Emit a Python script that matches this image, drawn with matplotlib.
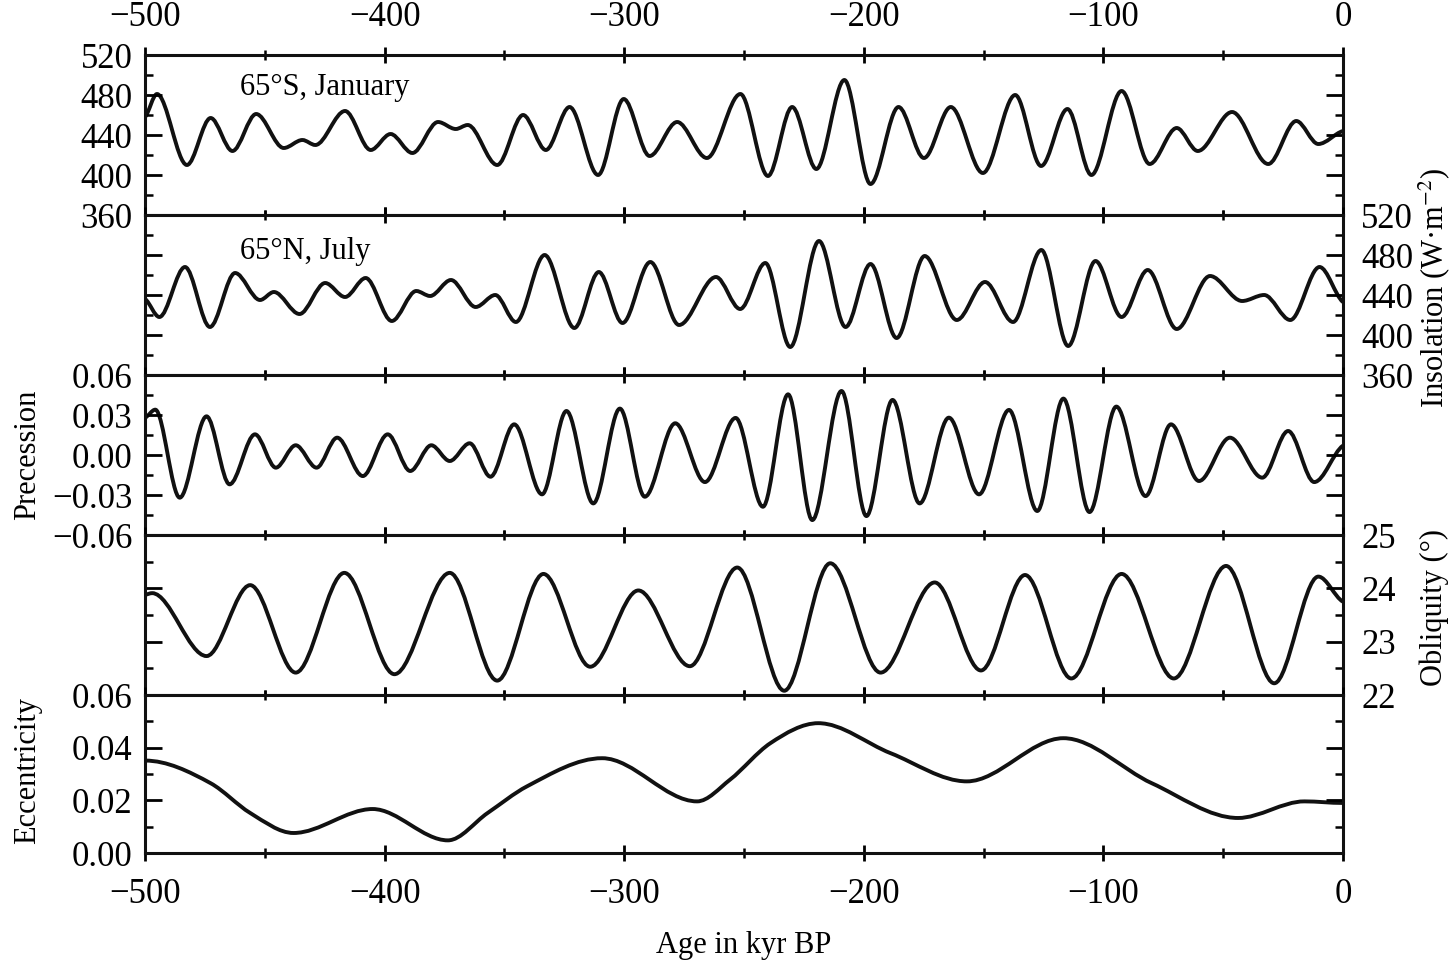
import numpy as np
import matplotlib.pyplot as plt
from matplotlib.path import Path
from matplotlib.patches import PathPatch
from matplotlib.ticker import MultipleLocator, FuncFormatter

plt.rcParams['font.family'] = ['Liberation Serif', 'DejaVu Serif']
plt.rcParams['mathtext.fontset'] = 'stix'
plt.rcParams['font.size'] = 22

# turning points: age (kyr BP), value
jan_age = [-500, -495, -482.5, -472.6, -463.5, -453.6, -442.1, -434.3, -428.9, -416.5, -405.8,
           -397.5, -388.4, -377.7, -370.3, -365.3, -353, -342.2, -332.7, -322.8, -310.9, -300.2,
           -289.4, -277.9, -265.5, -251.5, -240, -229.9, -219.8, -208.1, -197.2, -185.5, -174.9,
           -163.7, -150.3, -136.8, -126, -115, -105, -92.4, -80.7, -69.4, -60.6, -46.3, -31.2,
           -19.5, -10.3, 0]
jan_val = [458, 481, 410, 457, 424, 461, 427, 435, 430, 464, 425, 441, 422, 453, 446, 450, 410,
           460, 425, 468, 400, 476, 419, 453, 417, 481, 399, 468, 406, 495, 391, 468, 417, 468,
           402, 480, 409, 466, 400, 484, 411, 447, 424, 463, 411, 454, 431, 444]

jul_age = [-500, -494, -483.3, -472.9, -462.4, -452, -446.2, -435.5, -424.8, -416.5, -407.9,
           -397, -386.8, -381, -372.3, -362, -353.8, -345.2, -333.2, -320.8, -310.6, -300.7,
           -289.1, -277.1, -261.7, -251.6, -241.1, -230.7, -218.7, -207.6, -197.2, -186.3,
           -174.6, -161.2, -149.4, -137.7, -125.9, -114.7, -103.3, -92.4, -81.5, -69.4, -55.5,
           -42.1, -32.9, -22, -9.8, 0]
jul_val = [436, 418, 468, 408, 462, 435, 443, 421, 452, 438, 457, 414, 444, 439, 455, 428, 440,
           413, 480, 407, 463, 412, 473, 410, 458, 426, 472, 388, 494, 408, 471, 397, 479, 415,
           453, 413, 485, 389, 474, 418, 465, 406, 459, 434, 440, 415, 468, 433]

prec_age = [-500, -495.7, -485.5, -474.3, -464.7, -454.1, -445.4, -437.1, -428.4, -419.8,
            -409.1, -398.7, -389.3, -380.5, -372.8, -364.5, -355.8, -345.9, -334.3, -324.1,
            -312.9, -301.8, -291.4, -278.7, -266.3, -253.5, -242.1, -231.6, -221.5, -209.3,
            -198.9, -188, -176.7, -164.5, -151.9, -139.4, -127.6, -116.7, -105.8, -94.6, -82.4,
            -71.8, -60.1, -47.2, -33.7, -22.9, -12, 0]
prec_val = [0.028, 0.034, -0.032, 0.029, -0.022, 0.0155, -0.0095, 0.0073, -0.0095, 0.013,
            -0.0158, 0.0155, -0.012, 0.0073, -0.0045, 0.0088, -0.0163, 0.023, -0.0295, 0.033,
            -0.0363, 0.0348, -0.0313, 0.0238, -0.0203, 0.0278, -0.0388, 0.0455, -0.0488, 0.048,
            -0.0458, 0.0413, -0.0363, 0.028, -0.0295, 0.0338, -0.042, 0.0423, -0.0428, 0.0363,
            -0.0308, 0.023, -0.0195, 0.013, -0.017, 0.018, -0.0203, 0.007]

obl_age = [-500, -497, -474.3, -456.1, -437.1, -416.8, -395.9, -372.8, -353, -333.7, -314.2,
           -294.1, -272.6, -252.8, -233.2, -214, -193, -170.4, -151.1, -132.7, -113.4, -92.4,
           -70.6, -48.8, -28.7, -10.3, 0]
obl_val = [23.88, 23.91, 22.73, 24.06, 22.42, 24.29, 22.39, 24.29, 22.27, 24.27, 22.53, 23.96,
           22.54, 24.39, 22.08, 24.47, 22.42, 24.11, 22.46, 24.25, 22.31, 24.27, 22.31, 24.42,
           22.22, 24.22, 23.75]

ecc_age = [-500, -472.6, -456.1, -438, -405, -373.6, -357, -340.6, -309.2, -269.6, -255.9, -239,
           -219, -188.8, -157, -116.7, -79.8, -43.8, -16.1, 0]
ecc_val = [0.0351, 0.0265, 0.0152, 0.0076, 0.0167, 0.0048, 0.0152, 0.0253, 0.036, 0.0196,
           0.0278, 0.0417, 0.0493, 0.0379, 0.0272, 0.0436, 0.0265, 0.0133, 0.0196, 0.019]


def smooth_curve(ax, xs, ys, end_slope=0.5):
    # cubic Bezier through the read points, flat at turning points
    x = np.asarray(xs, float)
    y = np.asarray(ys, float)
    d = np.diff(y) / np.diff(x)
    m = np.zeros_like(x)
    for i in range(1, len(x) - 1):
        if d[i - 1] * d[i] > 0:
            m[i] = 0.5 * (d[i - 1] + d[i])
    m[0] = d[0] * end_slope
    m[-1] = d[-1] * end_slope
    verts = [(x[0], y[0])]
    codes = [Path.MOVETO]
    for i in range(len(x) - 1):
        h = x[i + 1] - x[i]
        verts += [(x[i] + h / 3, y[i] + m[i] * h / 3),
                  (x[i + 1] - h / 3, y[i + 1] - m[i + 1] * h / 3),
                  (x[i + 1], y[i + 1])]
        codes += [Path.CURVE4] * 3
    ax.add_patch(PathPatch(Path(verts, codes), fill=False, edgecolor='#111111',
                           lw=2.8, joinstyle='round', capstyle='round'))


def two_dec(v, pos):
    s = '%.2f' % v
    if s == '-0.00':
        s = '0.00'
    return s.replace('-', '\u2212')


fig = plt.figure(figsize=(14.51, 9.63), dpi=100)
L, W = 145 / 1451, 1198 / 1451
edges = [55, 215, 375, 535, 695, 853]
axes = []
for i in range(5):
    b = 1 - edges[i + 1] / 963
    h = (edges[i + 1] - edges[i]) / 963
    ax = fig.add_axes([L, b, W, h])
    ax.set_xlim(-500, 0)
    ax.xaxis.set_major_locator(MultipleLocator(100))
    ax.xaxis.set_minor_locator(MultipleLocator(50))
    ax.tick_params(axis='x', which='major', direction='inout', length=12, width=2,
                   top=True, bottom=True, labelbottom=False, labeltop=False, pad=9,
                   labelsize=25)
    ax.tick_params(axis='x', which='minor', direction='inout', length=7, width=1.8,
                   top=True, bottom=True)
    ax.tick_params(axis='y', which='major', direction='in', length=12, width=2,
                   left=True, right=True, pad=9, labelsize=25)
    ax.tick_params(axis='y', which='minor', direction='in', length=6, width=1.8,
                   left=True, right=True)
    for sp in ax.spines.values():
        sp.set_linewidth(2.2)
        sp.set_color('#111111')
    axes.append(ax)

a0, a1, a2, a3, a4 = axes

a0.set_ylim(360, 520)
a0.yaxis.set_major_locator(MultipleLocator(40))
a0.yaxis.set_minor_locator(MultipleLocator(20))
a0.tick_params(axis='x', labeltop=True)
smooth_curve(a0, jan_age, jan_val)
a0.text(0.079, 0.8, '65°S, January', transform=a0.transAxes, va='center', ha='left')

a1.set_ylim(360, 520)
a1.yaxis.set_major_locator(MultipleLocator(40))
a1.yaxis.set_minor_locator(MultipleLocator(20))
a1.tick_params(axis='y', labelleft=False, labelright=True, pad=13)
smooth_curve(a1, jul_age, jul_val)
a1.text(0.079, 0.77, '65°N, July', transform=a1.transAxes, va='center', ha='left')

a2.set_ylim(-0.06, 0.06)
a2.yaxis.set_major_locator(MultipleLocator(0.03))
a2.yaxis.set_minor_locator(MultipleLocator(0.015))
a2.yaxis.set_major_formatter(FuncFormatter(two_dec))
smooth_curve(a2, prec_age, prec_val)

a3.set_ylim(22, 25)
a3.yaxis.set_major_locator(MultipleLocator(1))
a3.yaxis.set_minor_locator(MultipleLocator(0.5))
a3.tick_params(axis='y', labelleft=False, labelright=True, pad=13)
smooth_curve(a3, obl_age, obl_val)

a4.set_ylim(0, 0.06)
a4.yaxis.set_major_locator(MultipleLocator(0.02))
a4.yaxis.set_minor_locator(MultipleLocator(0.01))
a4.yaxis.set_major_formatter(FuncFormatter(two_dec))
a4.tick_params(axis='x', labelbottom=True, pad=12)
smooth_curve(a4, ecc_age, ecc_val, end_slope=0.0)

fig.text(744 / 1451, 1 - 945 / 963, 'Age in kyr BP', ha='center', va='center')
fig.text(28 / 1451, 1 - 455 / 963, 'Precession', rotation=90, ha='center', va='center')
fig.text(28 / 1451, 1 - 770 / 963, 'Eccentricity', rotation=90, ha='center', va='center')
fig.text(1434 / 1451, 1 - 288 / 963, 'Insolation (W·m$^{-2}$)', rotation=90,
         ha='center', va='center')
fig.text(1434 / 1451, 1 - 608 / 963, 'Obliquity (°)', rotation=90, ha='center', va='center')

fig.savefig('out.png', dpi=100)
